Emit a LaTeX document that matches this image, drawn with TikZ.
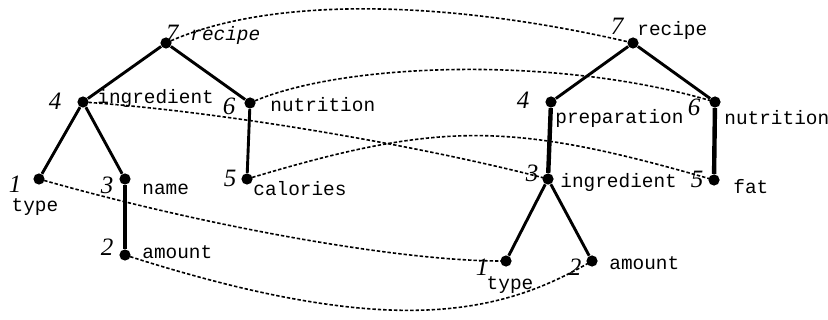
\documentclass[tikz,border=0pt]{standalone}
\usepackage{fontspec}
\setmainfont{Liberation Serif}
\setmonofont{Liberation Mono}
\usetikzlibrary{backgrounds}

\begin{document}
\begin{tikzpicture}[
  x=0.5pt, y=-0.5pt,
  dot/.style={circle, fill=black, inner sep=0pt, minimum size=5.6pt},
  num/.style={inner sep=0pt, font=\fontsize{12.5}{13}\selectfont\itshape},
  tag/.style={inner sep=0pt, anchor=west, font=\fontsize{9.7}{10}\selectfont\ttfamily},
  edge/.style={line width=1.45pt},
  stem/.style={line width=2.2pt},
  link/.style={line width=0.8pt, dash pattern=on 1.7pt off 1pt}
]
  \useasboundingbox (0,0) rectangle (828,320);

  % first tree
  \node[dot] (l-recipe) at (166,43) {};
  \node[dot] (l-ingredient) at (83,102) {};
  \node[dot] (l-nutrition) at (250,103) {};
  \node[dot] (l-type) at (39,179) {};
  \node[dot] (l-name) at (125,179) {};
  \node[dot] (l-amount) at (125,255) {};
  \node[dot] (l-calories) at (247,179) {};

  \node[num] at ([xshift=3pt,yshift=5pt]l-recipe.center) {7};
  \node[tag, font=\fontsize{9.7}{10}\selectfont\ttfamily\itshape] at ([xshift=12pt,yshift=4pt]l-recipe.center) {recipe};
  \node[num] at ([xshift=-14pt,yshift=0.5pt]l-ingredient.center) {4};
  \node[tag] at ([xshift=7pt,yshift=2pt]l-ingredient.center) {ingredient};
  \node[num] at ([xshift=-10.5pt,yshift=-1.5pt]l-nutrition.center) {6};
  \node[tag] at ([xshift=10pt,yshift=-1pt]l-nutrition.center) {nutrition};
  \node[num] at ([xshift=-12pt,yshift=-2.5pt]l-type.center) {1};
  \node[tag, anchor=center] at ([xshift=-2pt,yshift=-14pt]l-type.center) {type};
  \node[num] at ([xshift=-9pt,yshift=-3pt]l-name.center) {3};
  \node[tag] at ([xshift=8.5pt,yshift=-5pt]l-name.center) {name};
  \node[num] at ([xshift=-9pt,yshift=4pt]l-amount.center) {2};
  \node[tag] at ([xshift=8.5pt,yshift=1.5pt]l-amount.center) {amount};
  \node[num] at ([xshift=-8.5pt,yshift=0.5pt]l-calories.center) {5};
  \node[tag] at ([xshift=3pt,yshift=-5pt]l-calories.center) {calories};

  % second tree
  \node[dot] (r-recipe) at (633,43) {};
  \node[dot] (r-preparation) at (551,102) {};
  \node[dot] (r-nutrition) at (715,102) {};
  \node[dot] (r-ingredient) at (548,179) {};
  \node[dot] (r-fat) at (714,180) {};
  \node[dot] (r-type) at (506,261) {};
  \node[dot] (r-amount) at (592,261) {};

  \node[num] at ([xshift=-8pt,yshift=8.5pt]r-recipe.center) {7};
  \node[tag] at ([xshift=2pt,yshift=6.5pt]r-recipe.center) {recipe};
  \node[num] at ([xshift=-14pt,yshift=1pt]r-preparation.center) {4};
  \node[tag] at ([xshift=2pt,yshift=-8pt]r-preparation.center) {preparation};
  \node[num] at ([xshift=-10.5pt,yshift=-2.5pt]r-nutrition.center) {6};
  \node[tag] at ([xshift=4.5pt,yshift=-8pt]r-nutrition.center) {nutrition};
  \node[num] at ([xshift=-8pt,yshift=3pt]r-ingredient.center) {3};
  \node[tag] at ([xshift=6pt,yshift=-1.5pt]r-ingredient.center) {ingredient};
  \node[num] at ([xshift=-8.5pt,yshift=0.5pt]r-fat.center) {5};
  \node[tag] at ([xshift=9.5pt,yshift=-3.5pt]r-fat.center) {fat};
  \node[num] at ([xshift=-12pt,yshift=-3pt]r-type.center) {1};
  \node[tag, anchor=center] at ([xshift=2pt,yshift=-12pt]r-type.center) {type};
  \node[num] at ([xshift=-8.5pt,yshift=-3pt]r-amount.center) {2};
  \node[tag] at ([xshift=8.5pt,yshift=-1pt]r-amount.center) {amount};

  \draw[edge] (l-recipe) -- (l-ingredient);
  \draw[edge] (l-recipe) -- (l-nutrition);
  \draw[edge] (l-ingredient) -- (l-type);
  \draw[edge] (l-ingredient) -- (l-name);
  \draw[stem] (l-name) -- (l-amount);
  \draw[edge] (l-nutrition) -- (l-calories);

  \draw[edge] (r-recipe) -- (r-preparation);
  \draw[edge] (r-recipe) -- (r-nutrition);
  \draw[stem] (r-preparation) -- (r-ingredient);
  \draw[stem] (r-nutrition) -- (r-fat);
  \draw[edge] (r-ingredient) -- (r-type);
  \draw[edge] (r-ingredient) -- (r-amount);

  % mapping between the trees
  \begin{scope}[on background layer]
    \draw[link] (l-recipe.center) .. controls (270,-5) and (450,0) .. (r-recipe.center);
    \draw[link] (l-nutrition.center) .. controls (340,62) and (560,55) .. (r-nutrition.center);
    \draw[link] (l-ingredient.center) .. controls (230,112) and (430,148) .. (r-ingredient.center);
    \draw[link] (l-calories.center) .. controls (440,121) and (510,121) .. (r-fat.center);
    \draw[link] (l-type.center) .. controls (200,225) and (400,262) .. (r-type.center);
    \draw[link] (l-amount.center) .. controls (390,340) and (500,315) .. (r-amount.center);
  \end{scope}
\end{tikzpicture}
\end{document}
